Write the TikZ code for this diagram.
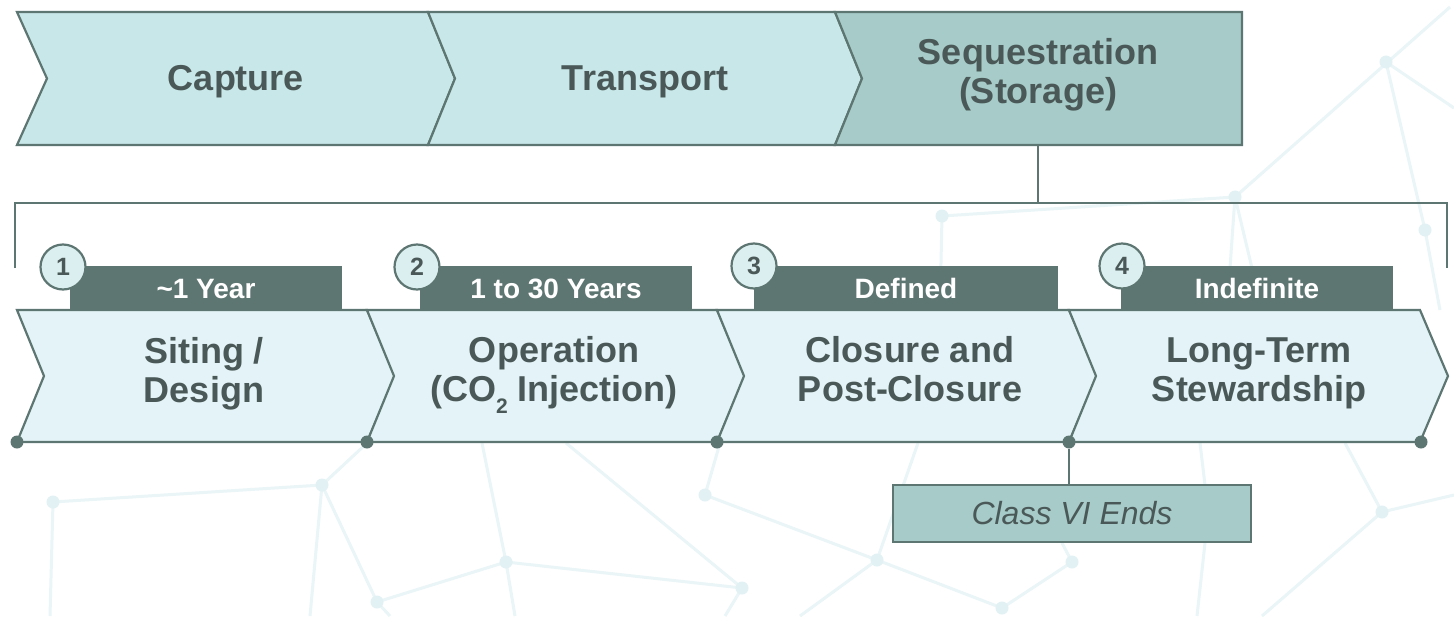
\documentclass[tikz,border=0pt]{standalone}
\usepackage{fontspec}
\setmainfont{Liberation Sans}
\definecolor{edgec}{HTML}{5E7672}
\definecolor{topfill}{HTML}{C8E7E8}
\definecolor{seqfill}{HTML}{A6CBC8}
\definecolor{botfill}{HTML}{E3F3F7}
\definecolor{txtc}{HTML}{4A5957}
\definecolor{circfill}{HTML}{DCEFF0}
\definecolor{netc}{HTML}{EAF5F7}
\definecolor{netnc}{HTML}{E2F1F4}
\newcommand\subtwo{\smash{\raisebox{-12pt}{\fontsize{21}{21}\selectfont 2}}}
\newcommand\vp{\vphantom{(}}
\begin{document}
\begin{tikzpicture}[x=1pt,y=-1pt,
  edge/.style={draw=edgec,line width=2.2pt,line join=miter},
  topchev/.style={edge,fill=topfill},
  botchev/.style={edge,fill=botfill},
  maintxt/.style={font=\bfseries\fontsize{36}{39}\selectfont,text=txtc,align=center,inner sep=0pt},
  toptxt/.style={font=\bfseries\fontsize{36}{39}\selectfont,text=txtc,inner sep=0pt,anchor=base},
  bartxt/.style={font=\bfseries\fontsize{28}{28}\selectfont,text=white,inner sep=0pt,anchor=base},
  numc/.style={circle,draw=edgec,line width=2.2pt,fill=circfill,minimum size=45pt,inner sep=0pt,font=\bfseries\fontsize{25}{25}\selectfont,text=txtc},
  dotn/.style={circle,fill=edgec,minimum size=13pt,inner sep=0pt},
  netl/.style={draw=netc,line width=3pt},
  netn/.style={circle,fill=netnc,minimum size=13pt,inner sep=0pt},
  barbox/.style={fill=edgec}
]
\useasboundingbox[fill=white] (0,0) rectangle (1454,616);

% background network
\coordinate (nA) at (53,502);
\coordinate (nB) at (322,485);
\coordinate (nC) at (377,602);
\coordinate (nD) at (506,562);
\coordinate (nE) at (742,588);
\coordinate (nF) at (705,495);
\coordinate (nG) at (877,560);
\coordinate (nH) at (1072,562);
\coordinate (nI) at (1002,608);
\coordinate (nJ) at (1382,512);
\coordinate (nK) at (942,216);
\coordinate (nL) at (1235,197);
\coordinate (nM) at (1386,62);
\coordinate (nN) at (1425,230);
\path[netl] (nA) -- (nB) (nA) -- (50,616) (nB) -- (366,444) (nB) -- (310,616)
  (nB) -- (nC) (nC) -- (nD) (nC) -- (390,616) (nD) -- (482,443) (nD) -- (nE)
  (nD) -- (515,616) (566,443) -- (nE) (nE) -- (725,616) (nF) -- (720,443)
  (nF) -- (nG) (nG) -- (nI) (nI) -- (nH) (nG) -- (918,443) (nH) -- (1062,543)
  (1205,543) -- (1197,616) (1200,443) -- (1205,485) (nJ) -- (1454,495) (nJ) -- (1262,616)
  (nJ) -- (1345,443) (nG) -- (800,616)
  (nK) -- (nL) (nK) -- (940,310) (nL) -- (1450,7) (nL) -- (1227,310) (nL) -- (1262,310)
  (nM) -- (nN) (nM) -- (1454,108) (nN) -- (1440,310);
\foreach \p in {nA,nB,nC,nD,nE,nF,nG,nH,nI,nJ,nK,nL,nM,nN} \node[netn] at (\p) {};

% top row
\path[topchev] (17,12) -- (428,12) -- (455,78.5) -- (428,145) -- (17,145) -- (47,78.5) -- cycle;
\path[topchev] (428,12) -- (835,12) -- (862,78.5) -- (835,145) -- (428,145) -- (455,78.5) -- cycle;
\path[edge,fill=seqfill] (835,12) -- (1242,12) -- (1242,145) -- (835,145) -- (862,78.5) -- cycle;
\node[toptxt] (capture) at (236,90) {Capture};
\node[toptxt] (transport) at (645,90) {Transport};
\node[maintxt] (seq) at (1038,75) {\vp Sequestration\\\vp(Storage)};

% bracket
\coordinate (seqbot) at (1038,145);
\coordinate (brkmid) at (1038,203);
\coordinate (brkL) at (15,203);
\coordinate (brkR) at (1447,203);
\coordinate (brkLend) at (15,268);
\coordinate (brkRend) at (1447,268);
\draw[edge] (seqbot) -- (brkmid);
\draw[edge] (brkLend) -- (brkL) -- (brkR) -- (brkRend);

% bars
\fill[barbox] (70,266) rectangle (342,310);
\fill[barbox] (420,266) rectangle (692,310);
\fill[barbox] (754,266) rectangle (1058,310);
\fill[barbox] (1121,266) rectangle (1393,310);
\node[bartxt] (b1) at (206,298) {\textasciitilde1 Year};
\node[bartxt] (b2) at (556,298) {1 to 30 Years};
\node[bartxt] (b3) at (906,298) {Defined};
\node[bartxt] (b4) at (1257,298) {Indefinite};

% bottom chevrons
\foreach \l/\r in {17/367,367/717,717/1069,1069/1420}
  \path[botchev] (\l,310) -- (\r,310) -- (\r+28,376) -- (\r,442) -- (\l,442) -- (\l+27,376) -- cycle;
\node[maintxt] (p1) at (204,374) {\vp Siting /\\\vp Design};
\node[maintxt] (p2) at (554,373) {\vp Operation\\\vp(CO\subtwo\ Injection)};
\node[maintxt] (p3) at (910,373) {\vp Closure and\\\vp Post-Closure};
\node[maintxt] (p4) at (1259,373) {\vp Long-Term\\\vp Stewardship};

% number circles
\node[numc] (c1) at (63,267) {1};
\node[numc] (c2) at (417,267) {2};
\node[numc] (c3) at (754,266) {3};
\node[numc] (c4) at (1122,266) {4};

% dots
\node[dotn] (d0) at (17,442) {};
\node[dotn] (d1) at (367,442) {};
\node[dotn] (d2) at (717,442) {};
\node[dotn] (d3) at (1069,442) {};
\node[dotn] (d4) at (1421,442) {};

% Class VI Ends
\node[edge,fill=seqfill,rectangle,minimum width=358pt,minimum height=57pt,inner sep=0pt,
  font=\itshape\fontsize{32}{32}\selectfont,text=txtc] (cls) at (1072,513.5) {Class VI Ends};
\draw[edge] (d3) -- (d3 |- cls.north);
\end{tikzpicture}
\end{document}
